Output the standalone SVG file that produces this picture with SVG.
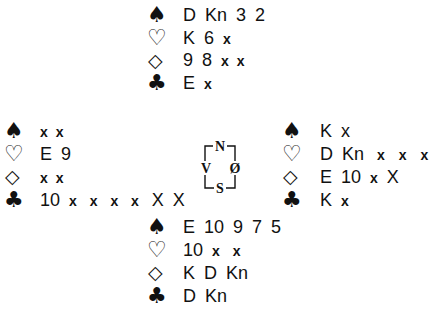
<svg xmlns="http://www.w3.org/2000/svg" width="434" height="326" viewBox="0 0 434 326">
<style>
.s{font-family:"DejaVu Sans",sans-serif;font-size:22px;fill:#111}
.d{font-family:"DejaVu Sans",sans-serif;font-size:19px;fill:#111}
.t{font-family:"Liberation Sans",Arial,sans-serif;font-size:18px;fill:#111;white-space:pre;word-spacing:4px}
.x{font-weight:bold;font-size:14px}
.w{word-spacing:9px}
.v{word-spacing:10px}
.c{font-family:"Liberation Serif",serif;font-weight:bold;font-size:14px;fill:#111}
.b{fill:none;stroke:#111;stroke-width:1.4}
</style>
<rect width="434" height="326" fill="#fff"/>
<g id="north">
<text class="s" x="147" y="22">♠</text><text class="t" x="183" y="21">D Kn 3 2</text>
<text class="s" x="147" y="45">♡</text><text class="t" x="183" y="44">K 6 <tspan class="x">x</tspan></text>
<text class="d" x="148" y="67">◇</text><text class="t" x="183" y="66">9 8 <tspan class="x">x x</tspan></text>
<text class="s" x="147" y="90">♣</text><text class="t" x="183" y="89">E <tspan class="x">x</tspan></text>
</g>
<g id="west">
<text class="s" x="4" y="138">♠</text><text class="t" x="40" y="137"><tspan class="x">x x</tspan></text>
<text class="s" x="4" y="161">♡</text><text class="t" x="40" y="160">E 9</text>
<text class="d" x="5" y="183">◇</text><text class="t" x="40" y="183"><tspan class="x">x x</tspan></text>
<text class="s" x="4" y="207">♣</text><text class="t" x="40" y="206">10 <tspan class="x w">x x x x </tspan>X X</text>
</g>
<g id="east">
<text class="s" x="282" y="138">♠</text><text class="t" x="320" y="137">K x</text>
<text class="s" x="282" y="161">♡</text><text class="t" x="320" y="160">D Kn <tspan dx="4" class="x v">x x x</tspan></text>
<text class="d" x="283" y="183">◇</text><text class="t" x="320" y="183">E 10 <tspan class="x">x</tspan> X</text>
<text class="s" x="282" y="207">♣</text><text class="t" x="320" y="206">K <tspan class="x">x</tspan></text>
</g>
<g id="south">
<text class="s" x="147" y="234">♠</text><text class="t" x="183" y="233">E 10 9 7 5</text>
<text class="s" x="147" y="257">♡</text><text class="t" x="183" y="256">10 <tspan class="x w">x x</tspan></text>
<text class="d" x="148" y="279">◇</text><text class="t" x="183" y="279">K D Kn</text>
<text class="s" x="147" y="303">♣</text><text class="t" x="183" y="302">D Kn</text>
</g>
<g id="compass">
<path class="b" d="M205,161 V146 H213 M227,146 H235 V161 M205,175 V188 H214 M226,188 H235 V175"/>
<text class="c" x="220" y="151" text-anchor="middle">N</text>
<text class="c" x="206" y="173" text-anchor="middle">V</text>
<text class="c" x="235" y="173" text-anchor="middle">Ø</text>
<text class="c" x="220" y="193" text-anchor="middle">S</text>
</g>
</svg>
